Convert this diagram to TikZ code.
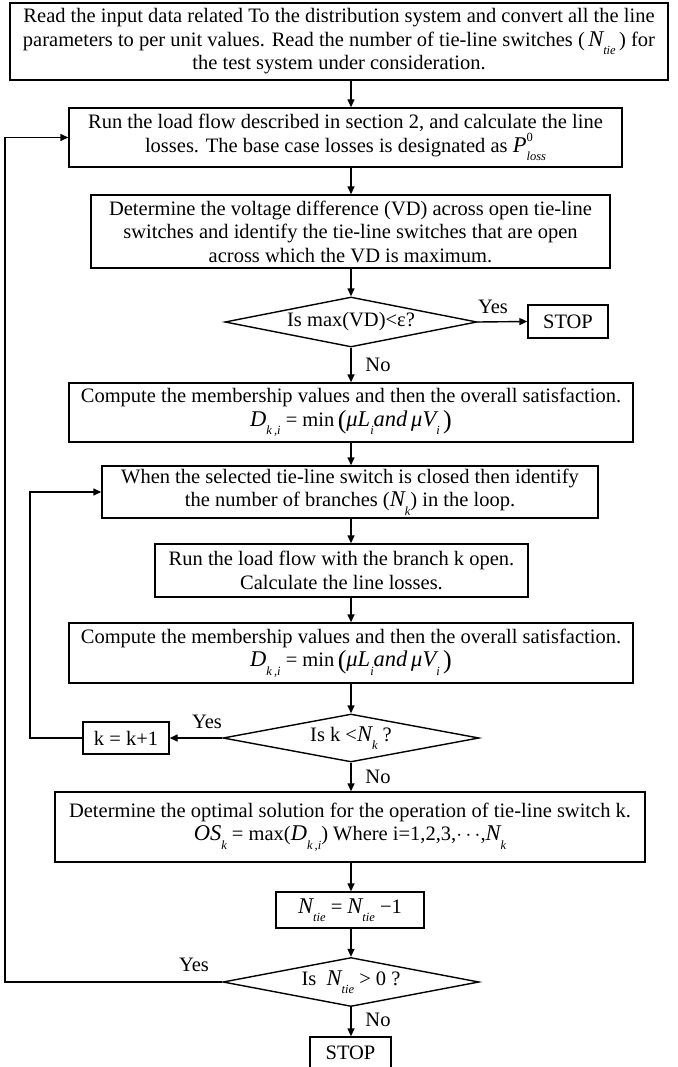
\documentclass[tikz,border=0pt]{standalone}
\usepackage{fontspec}
\setmainfont{Liberation Serif}
\usetikzlibrary{shapes.geometric,arrows.meta}
\newcommand\mi[1]{{\fontsize{22.5}{22.5}\selectfont\itshape #1}}
\newcommand\lowsub[1]{\raisebox{-0.4em}{\fontsize{12.5}{12.5}\selectfont\itshape #1}}
\newcommand\bigparen[1]{\raisebox{-0.08em}{\fontsize{26}{26}\selectfont #1}}
\begin{document}
\begin{tikzpicture}[x=1pt,y=-1pt,
  font=\fontsize{20.5}{23.5}\selectfont,
  box/.style={draw, line width=1.4pt, inner sep=0pt, align=center},
  dia/.style={draw, line width=1.4pt, shape=diamond, inner sep=0pt, shape aspect=5, align=center},
  arr/.style={line width=1.4pt, -{Triangle[length=8pt,width=7pt]}},
  lbl/.style={inner sep=0pt}]
\useasboundingbox (0,0) rectangle (677,1067);

\node[box, minimum width=658pt, minimum height=77pt] (b1) at (339,41.5)
  {Read the input data related To the distribution system and convert all the line\\
   parameters to per unit values. Read the number of tie-line switches (\,\mi{N}\lowsub{tie}\,) for\\
   the test system under consideration.};

\node[box, minimum width=553pt, minimum height=59pt] (b2) at (345.5,137.5)
  {Run the load flow described in section 2, and calculate the line\\
   losses. The base case losses is designated as \mi{P}\rlap{\raisebox{0.55em}{\fontsize{12.5}{12.5}\selectfont 0}}\lowsub{loss}};

\node[box, minimum width=519pt, minimum height=73pt] (b3) at (350.5,231.5)
  {Determine the voltage difference (VD) across open tie-line\\
   switches and identify the tie-line switches that are open\\
   across which the VD is maximum.};

\node[dia, minimum width=252pt, minimum height=50pt] (d1) at (351,322) {Is max(VD)<ε?};

\node[box, minimum width=80pt, minimum height=33pt] (s1) at (568,321.5) {STOP};

\node[box, minimum width=564pt, minimum height=59pt] (b4) at (351,412.5)
  {Compute the membership values and then the overall satisfaction.\\
   \mi{D}\lowsub{k\,,i} = min\,\bigparen{(}\mi{μL}\lowsub{i}\mi{and\,μV}\lowsub{i}\,\bigparen{)}};

\node[box, minimum width=496pt, minimum height=52pt] (b5) at (350,492)
  {When the selected tie-line switch is closed then identify\\
   the number of branches (\mi{N}\lowsub{k}) in the loop.};

\node[box, minimum width=373pt, minimum height=53pt] (b6) at (341.5,570.5)
  {Run the load flow with the branch k open.\\
   Calculate the line losses.};

\node[box, minimum width=564pt, minimum height=60pt] (b7) at (351,653)
  {Compute the membership values and then the overall satisfaction.\\
   \mi{D}\lowsub{k\,,i} = min\,\bigparen{(}\mi{μL}\lowsub{i}\mi{and\,μV}\lowsub{i}\,\bigparen{)}};

\node[dia, minimum width=256pt, minimum height=48pt] (d2) at (351,738) {Is k <\mi{N}\lowsub{k} ?};

\node[box, minimum width=86pt, minimum height=32pt] (k1) at (126,738) {k = k+1};

\node[box, minimum width=590pt, minimum height=70pt] (b8) at (350,827)
  {Determine the optimal solution for the operation of tie-line switch k.\\
   \mi{OS}\lowsub{k} = max(\mi{D}\lowsub{k\,,i}) Where i=1,2,3,$\cdots$,\mi{N}\lowsub{k}};

\node[box, minimum width=148pt, minimum height=36pt] (b9) at (350,910)
  {\mi{N}\lowsub{tie} = \mi{N}\lowsub{tie} −1};

\node[dia, minimum width=256pt, minimum height=49pt] (d3) at (351,982) {Is \ \mi{N}\lowsub{tie} > 0 ?};

\node[box, minimum width=81pt, minimum height=31pt] (s2) at (350.5,1052.5) {STOP};

\coordinate (outer) at (5,0);
\coordinate (inner) at (30,0);

\draw[arr] (d1 |- b1.south) -- (d1 |- b2.north);
\draw[arr] (d1 |- b2.south) -- (d1 |- b3.north);
\draw[arr] (d1 |- b3.south) -- (d1.north);
\draw[arr] (d1.east) -- (s1.west);
\draw[arr] (d1.south) -- (d1 |- b4.north);
\draw[arr] (d1 |- b4.south) -- (d1 |- b5.north);
\draw[arr] (d1 |- b5.south) -- (d1 |- b6.north);
\draw[arr] (d1 |- b6.south) -- (d1 |- b7.north);
\draw[arr] (d1 |- b7.south) -- (d2.north);
\draw[arr] (d2.west) -- (k1.east);
\draw[arr] (k1.west) -- (k1.west -| inner) |- (b5.west);
\draw[arr] (d2.south) -- (d2 |- b8.north);
\draw[arr] (d2 |- b8.south) -- (d2 |- b9.north);
\draw[arr] (d2 |- b9.south) -- (d3.north);
\draw[arr] (d3.south) -- (d3 |- s2.north);
\draw[arr] (d3.west) -- (d3.west -| outer) |- (b2.west);

\node[lbl] (y1) at (493,307) {Yes};
\node[lbl] (n1) at (378,365) {No};
\node[lbl] (y2) at (207,722) {Yes};
\node[lbl] (n2) at (378,777) {No};
\node[lbl] (y3) at (194,965) {Yes};
\node[lbl] (n3) at (378,1020) {No};
\end{tikzpicture}
\end{document}
